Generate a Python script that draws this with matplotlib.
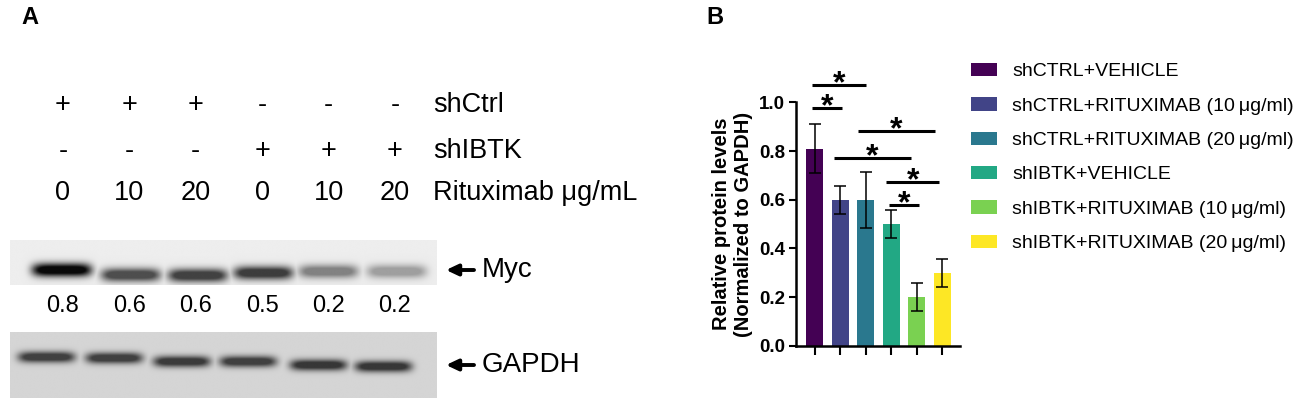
import numpy as np
import matplotlib
matplotlib.use('Agg')
import matplotlib.pyplot as plt
from matplotlib.patches import Patch

plt.rcParams['font.family'] = ['Liberation Sans', 'DejaVu Sans']

# ---------------- Data ----------------
# Panel A (western blot)
shctrl_row = ['+', '+', '+', '-', '-', '-']
shibtk_row = ['-', '-', '-', '+', '+', '+']
rituximab_row = ['0', '10', '20', '0', '10', '20']
myc_quant = ['0.8', '0.6', '0.6', '0.5', '0.2', '0.2']
row_labels = ['shCtrl', 'shIBTK', 'Rituximab \u03bcg/mL']
myc_band_intensity = [0.96, 0.67, 0.72, 0.74, 0.45, 0.33]
gapdh_band_intensity = [0.70, 0.70, 0.72, 0.70, 0.74, 0.74]

# Panel B (bar chart)
groups = ['shCTRL+VEHICLE',
          'shCTRL+RITUXIMAB (10\u2009\u03bcg/ml)',
          'shCTRL+RITUXIMAB (20\u2009\u03bcg/ml)',
          'shIBTK+VEHICLE',
          'shIBTK+RITUXIMAB (10\u2009\u03bcg/ml)',
          'shIBTK+RITUXIMAB (20\u2009\u03bcg/ml)']
rel_levels = [0.81, 0.60, 0.60, 0.50, 0.20, 0.30]
rel_errors = [0.10, 0.058, 0.115, 0.058, 0.058, 0.058]
colors = ['#440154', '#414487', '#2a788e', '#22a884', '#7ad151', '#fde725']
# significance brackets: (start, end, height)
sig_brackets = [(-0.09, 2.01, 1.07), (-0.12, 1.07, 0.975), (1.69, 4.71, 0.883),
                (0.76, 3.76, 0.77), (2.80, 4.89, 0.671), (2.93, 4.10, 0.578)]

# ---------------- Layout helpers ----------------
W, H = 1299, 405
fig = plt.figure(figsize=(W / 100, H / 100), dpi=100)


def frac(x0, y0, x1, y1):
    return [x0 / W, 1 - y1 / H, (x1 - x0) / W, (y1 - y0) / H]


LANE0, LANEW = 63.0, 66.4


def L(px):
    return (px - LANE0) / LANEW


# ---------------- Panel A ----------------
axA = fig.add_axes([0, 0, 1, 1])
axA.axis('off')


def blot(ax, x0, x1, y0, y1, bg, intens, ycent, xshift, hw, hh):
    xs = np.linspace(L(x0), L(x1), 700)
    ys = np.linspace(y0, y1, 140)
    X, Y = np.meshgrid(xs, ys)
    dark = np.zeros_like(X)
    for i, a in enumerate(intens):
        p = np.exp(-np.abs((X - (i + xshift[i])) / hw) ** 6) * np.exp(-((Y - ycent[i]) / hh) ** 2)
        dark = np.maximum(dark, a * np.clip(1.25 * p, 0, 1))
    img = bg * (1 - dark)
    ax.imshow(img, cmap='gray', vmin=0, vmax=1, extent=(xs[0], xs[-1], y1, y0),
              origin='upper', aspect='auto', interpolation='bilinear', zorder=1)


blot(axA, 10, 437, 240, 285, 0.93, myc_band_intensity,
     [270, 275, 275.5, 273, 271.5, 271.5],
     [-0.02, 0.02, 0.03, 0.02, 0.0, 0.03], 0.45, 6.8)
blot(axA, 10, 437, 332, 398, 0.835, gapdh_band_intensity,
     [357, 358, 361.5, 361.5, 365, 366.5],
     [-0.25, -0.23, -0.21, -0.21, -0.15, -0.17], 0.43, 5.6)

axA.set_xlim(-LANE0 / LANEW, (W - LANE0) / LANEW)
axA.set_ylim(H, 0)

row_base = [111.7, 158.3, 200.0]
for row, yb in zip([shctrl_row, shibtk_row, rituximab_row], row_base):
    for i, s in enumerate(row):
        axA.text(i, yb, s, ha='center', va='baseline', fontsize=19.5)
for lab, yb in zip(row_labels, row_base):
    axA.text(L(433), yb, lab, ha='left', va='baseline', fontsize=19.5)

for i, s in enumerate(myc_quant):
    axA.text(i, 311.7, s, ha='center', va='baseline', fontsize=17)

for yy, name in [(270, 'Myc'), (365, 'GAPDH')]:
    axA.annotate('', xy=(L(446), yy), xytext=(L(474), yy),
                 arrowprops=dict(arrowstyle='-|>,head_length=0.7,head_width=0.33',
                                 color='black', lw=2.8, shrinkA=0, shrinkB=0))
    axA.text(L(482), yy, name, ha='left', va='center', fontsize=20)

fig.text(30 / W, 1 - 17 / H, 'A', ha='center', va='center', fontsize=17, fontweight='bold')
fig.text(715 / W, 1 - 17 / H, 'B', ha='center', va='center', fontsize=17, fontweight='bold')

# ---------------- Panel B ----------------
axB = fig.add_axes(frac(796, 102.3, 960, 345.8))
x = np.arange(len(groups))
axB.bar(x, rel_levels, width=0.667, color=colors, zorder=2)
axB.errorbar(x, rel_levels, yerr=rel_errors, fmt='none', ecolor='black',
             elinewidth=1.1, capsize=4, capthick=1.1, zorder=3)
axB.set_xlim(-0.733, 5.698)
axB.set_ylim(0, 1.0)
yt = np.arange(0, 1.01, 0.2)
axB.set_yticks(yt)
axB.set_yticklabels(['%.1f' % v for v in yt], fontsize=13.5, fontweight='bold')
axB.set_xticks(x)
axB.set_xticklabels([])
for s in ['top', 'right']:
    axB.spines[s].set_visible(False)
for s in ['left', 'bottom']:
    axB.spines[s].set_linewidth(1.8)
axB.tick_params(axis='y', length=5, width=1.5, pad=3)
axB.tick_params(axis='x', length=6.5, width=1.5)
axB.set_ylabel('Relative protein levels\n(Normalized to GAPDH)', fontsize=14.5,
               fontweight='bold', labelpad=4)

for x0, x1, yy in sig_brackets:
    axB.plot([x0, x1], [yy, yy], color='black', lw=2.2, solid_capstyle='butt',
             clip_on=False, zorder=4)
    axB.text((x0 + x1) / 2, yy - 0.03, '*', ha='center', va='baseline',
             fontsize=23, fontweight='bold', clip_on=False)

handles = [Patch(facecolor=c, edgecolor='none') for c in colors]
fig.legend(handles, groups, loc='upper left', bbox_to_anchor=(971 / W, 1 - 63 / H),
           frameon=False, fontsize=14, handlelength=1.34, handleheight=0.67,
           handletextpad=0.77, labelspacing=0.87, borderpad=0, borderaxespad=0)

fig.savefig('out.png', dpi=100)
